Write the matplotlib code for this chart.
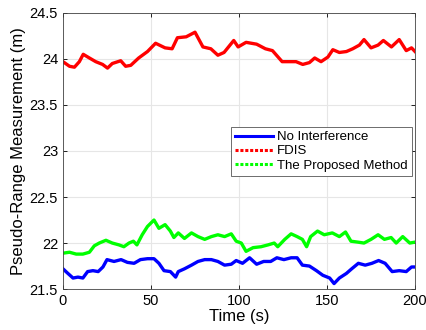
import matplotlib
matplotlib.use("Agg")
import matplotlib.pyplot as plt
from matplotlib.lines import Line2D

# ── data ─────────────────────────────────────────────────────────────
fdis_t = [0, 3.7, 6.5, 9.3, 11.5, 15, 18.6, 22.5, 25.3, 28, 32.8, 35.6, 38.5,
          43, 48, 52.6, 58, 62, 65, 70, 75, 79.5, 84, 88, 91.5, 97, 99.5, 104,
          110, 115, 119, 124.5, 130, 132.4, 136.2, 140, 143, 146.6, 150.5,
          153.3, 157, 161, 164.6, 168.4, 171, 175, 179, 182, 186.6, 191, 195,
          198, 200]
fdis_y = [23.97, 23.92, 23.91, 23.97, 24.05, 24.01, 23.97, 23.94, 23.90, 23.95,
          23.98, 23.92, 23.93, 24.01, 24.08, 24.17, 24.12, 24.11, 24.23, 24.24,
          24.29, 24.13, 24.11, 24.04, 24.07, 24.20, 24.13, 24.18, 24.16, 24.11,
          24.09, 23.97, 23.97, 23.97, 23.94, 23.96, 24.01, 23.97, 24.02, 24.10,
          24.07, 24.08, 24.11, 24.15, 24.21, 24.12, 24.15, 24.20, 24.13, 24.21,
          24.09, 24.12, 24.08]

prop_t = [0, 3.7, 7.5, 11.3, 15, 17.8, 20.6, 24.4, 28, 31.8, 34.6, 37.5, 40,
          42, 45, 48, 51.7, 54.5, 58, 61, 63, 65.5, 69, 73, 76.7, 80.5, 84.3,
          88, 91.8, 95.6, 98.4, 101.3, 104, 108, 112.5, 116.5, 120, 122, 126,
          129.6, 133, 136, 138.4, 140.7, 144.6, 148.4, 153, 157, 160.5, 163.6,
          167.5, 171, 175, 179, 182.6, 186.4, 189.3, 193, 197, 200]
prop_y = [21.89, 21.90, 21.88, 21.88, 21.90, 21.97, 22.00, 22.03, 22.00, 21.98,
          21.96, 22.00, 22.02, 21.98, 22.09, 22.18, 22.25, 22.16, 22.20, 22.13,
          22.06, 22.11, 22.05, 22.11, 22.07, 22.04, 22.07, 22.09, 22.07, 22.10,
          22.02, 22.00, 21.91, 21.95, 21.96, 21.98, 22.00, 21.96, 22.04, 22.10,
          22.07, 22.04, 21.96, 22.07, 22.13, 22.09, 22.11, 22.07, 22.12, 22.02,
          22.01, 22.00, 22.04, 22.09, 22.04, 22.06, 22.00, 22.07, 22.00, 22.01]

noint_t = [0, 2.8, 5.7, 8.5, 11.3, 14, 17, 20, 22.7, 25, 29, 33, 36.6, 40.4,
           44, 48, 51.7, 54.5, 57.4, 61, 64, 65.5, 69, 73, 76.7, 80.5, 84.3,
           88, 91.8, 95.6, 98.4, 102, 106, 110, 114, 118, 121.5, 125.5, 129.6,
           133, 136, 140, 144, 147.6, 151.5, 154, 157, 161, 164, 167.8, 171.7,
           175.5, 179.3, 183, 187, 191, 195, 198, 200]
noint_y = [21.72, 21.67, 21.62, 21.63, 21.62, 21.69, 21.70, 21.69, 21.74, 21.82,
           21.80, 21.82, 21.79, 21.78, 21.82, 21.83, 21.83, 21.78, 21.70, 21.69,
           21.63, 21.69, 21.72, 21.76, 21.80, 21.82, 21.82, 21.80, 21.76, 21.77,
           21.81, 21.78, 21.84, 21.77, 21.80, 21.80, 21.84, 21.82, 21.84, 21.84,
           21.76, 21.75, 21.70, 21.65, 21.62, 21.56, 21.62, 21.67, 21.72, 21.78,
           21.76, 21.78, 21.81, 21.78, 21.69, 21.70, 21.69, 21.74, 21.74]

labels = ["No Interference", "FDIS", "The Proposed Method"]
colors = ["#0000ff", "#ff0000", "#00ff00"]
x_ticks = [0, 50, 100, 150, 200]
y_ticks = [21.5, 22, 22.5, 23, 23.5, 24, 24.5]

# ── plot ─────────────────────────────────────────────────────────────
plt.rcParams["font.family"] = ["Liberation Sans", "DejaVu Sans"]

fig = plt.figure(figsize=(4.27, 3.30), dpi=100)
ax = fig.add_axes([0.1475, 0.124, 0.8245, 0.837])

ax.plot(noint_t, noint_y, color=colors[0], lw=2.4)
ax.plot(fdis_t, fdis_y, color=colors[1], lw=2.4)
ax.plot(prop_t, prop_y, color=colors[2], lw=2.4)

ax.set_xlim(0, 200)
ax.set_ylim(21.5, 24.5)
ax.set_xticks(x_ticks)
ax.set_yticks(y_ticks)
ax.set_yticklabels([f"{v:g}" for v in y_ticks])
ax.tick_params(direction="in", labelsize=10.5, length=3, width=0.6,
               top=True, right=True)
ax.grid(True, color="#e6e6e6", lw=0.8)
ax.set_axisbelow(True)
for s in ax.spines.values():
    s.set_color("#444444")
    s.set_linewidth(0.6)

ax.set_xlabel("Time (s)", fontsize=12, labelpad=1)
ax.set_ylabel("Pseudo-Range Measurement (m)", fontsize=12, labelpad=3)

handles = [
    Line2D([], [], color=colors[0], lw=2.2, ls="-"),
    Line2D([], [], color=colors[1], lw=2.2, ls=(0, (1, 0.6))),
    Line2D([], [], color=colors[2], lw=2.2, ls=(0, (1, 0.6))),
]
leg = ax.legend(handles, labels, loc="upper right",
                bbox_to_anchor=(0.99, 0.587), fontsize=9.5,
                frameon=True, fancybox=False, edgecolor="#555555",
                framealpha=1, borderpad=0.3, labelspacing=0.15,
                handlelength=2.9, handletextpad=0.3, borderaxespad=0)
leg.get_frame().set_linewidth(0.6)

fig.savefig("out.png", dpi=100)
